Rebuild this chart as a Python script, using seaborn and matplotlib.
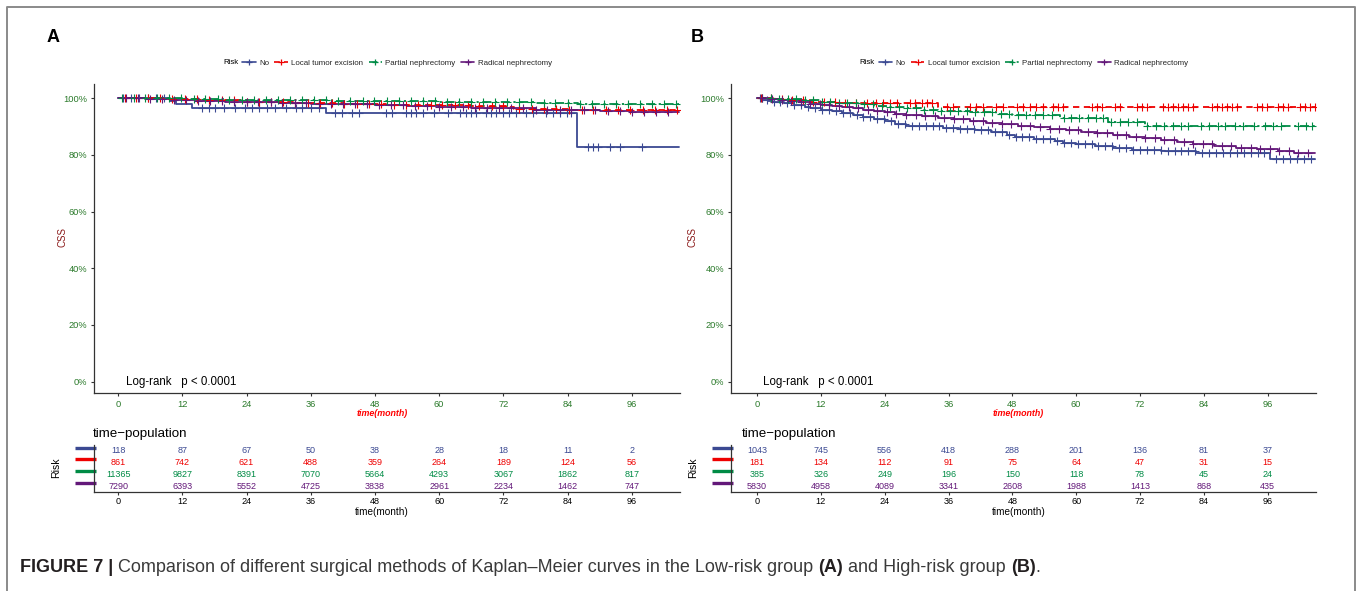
import numpy as np
import matplotlib
matplotlib.use("Agg")
import matplotlib.pyplot as plt
import matplotlib.transforms as mtransforms
from matplotlib.lines import Line2D
import seaborn as sns

# ---------------- data ----------------
groups = ["No", "Local tumor excision", "Partial nephrectomy", "Radical nephrectomy"]
tick_months = [0, 12, 24, 36, 48, 60, 72, 84, 96]
y_ticks = [0, 20, 40, 60, 80, 100]

# Panel A (Low-risk) step curves: time (months) / CSS (%)
a_no_t = [0, 9.7, 10.9, 13.9, 38.9, 85.8, 104.8]
a_no_s = [100, 99.1, 98.1, 96.6, 94.6, 82.9, 82.9]
a_lte_t = [0, 8, 15, 24, 33, 42, 50, 58, 66, 72.5, 74, 84, 95, 104.8]
a_lte_s = [100, 99.6, 99.2, 98.8, 98.4, 98.0, 97.7, 97.5, 97.2, 96.9, 96.2, 96.0, 95.8, 95.8]
a_pn_t = [0, 6, 12, 20, 30, 40, 50, 60, 70, 78, 86, 95, 104.8]
a_pn_s = [100, 99.9, 99.7, 99.5, 99.3, 99.1, 98.9, 98.7, 98.5, 98.3, 98.1, 98.0, 98.0]
a_rn_t = [0, 5, 10, 15, 20, 25, 30, 36, 42, 48, 54, 60, 66, 72, 78, 84, 90, 96, 100, 104.8]
a_rn_s = [100, 99.7, 99.4, 99.1, 98.8, 98.6, 98.3, 98.0, 97.8, 97.5, 97.3, 97.0, 96.7, 96.4, 96.0, 95.7, 95.5, 95.2, 95.0, 95.0]

# Panel A censoring times
a_no_c = [1.0, 2.5, 4.0, 5.5, 7.0, 8.5, 15.6, 16.9, 18.2, 19.7, 21.9, 23.8, 25.0, 26.3, 27.8, 29.4, 31.3, 33.2,
          34.3, 36.0, 37.5, 40.6, 41.8, 43.7, 45.0, 50.0, 51.2, 53.8, 54.7, 55.7, 56.9, 59.1, 61.6, 63.8, 65.1,
          66.0, 66.9, 68.8, 69.7, 70.7, 71.9, 73.1, 74.4, 76.3, 77.5, 80.0, 81.3, 82.5, 83.8, 84.7, 87.8, 88.7,
          89.7, 91.9, 93.8, 97.9]
a_lte_c = [1.2, 3.4, 5.6, 7.8, 10.1, 12.5, 14.7, 17.0, 19.4, 21.6, 24.0, 26.3, 28.5, 30.8, 33.1, 35.4, 37.7, 40.0,
           42.2, 44.6, 46.9, 49.1, 51.5, 53.8, 56.0, 58.4, 60.6, 63.0, 65.3, 67.5, 69.9, 72.0, 75.0, 77.3, 79.6,
           81.9, 84.2, 86.6, 88.8, 91.2, 93.4, 95.7, 98.0, 100.3, 102.6, 104.4]
a_pn_c = [0.8, 2.9, 5.1, 7.3, 9.6, 11.8, 14.1, 16.3, 18.6, 20.8, 23.1, 25.4, 27.6, 29.9, 32.1, 34.4, 36.6, 38.9,
          41.1, 43.4, 45.7, 47.9, 50.2, 52.4, 54.7, 56.9, 59.2, 61.4, 63.7, 66.0, 68.2, 70.5, 72.7, 75.0, 77.2,
          79.5, 81.7, 84.0, 86.3, 88.5, 90.8, 93.0, 95.3, 97.5, 99.8, 102.0, 104.3]
a_rn_c = [1.5, 3.7, 6.0, 8.2, 10.5, 12.7, 15.0, 17.2, 19.5, 21.7, 24.0, 26.2, 28.5, 30.7, 33.0, 35.2, 37.5, 39.7,
          42.0, 44.2, 46.5, 48.7, 51.0, 53.2, 55.5, 57.7, 60.0, 62.2, 64.5, 66.7, 69.0, 71.2, 73.5, 75.7, 78.0,
          80.2, 82.5, 84.7, 87.0, 89.2, 91.5, 93.7, 96.0, 98.2, 100.5, 102.7]

# Panel B (High-risk) step curves
b_no_t = [0, 1, 2, 3, 5, 7, 9, 10, 12, 14, 16, 18, 20, 22, 24, 26, 28, 35, 38, 41, 44, 47, 48.5, 52, 56, 57.5,
          60, 63.5, 67, 70.5, 76, 82.5, 96.5, 105]
b_no_s = [100, 99.5, 99.0, 98.6, 98.2, 97.6, 97.0, 96.5, 96.0, 95.4, 94.8, 94.2, 93.5, 92.8, 92.0, 91.0, 90.2,
          89.6, 89.2, 88.6, 87.9, 87.0, 86.2, 85.6, 85.0, 84.2, 83.8, 83.0, 82.4, 81.8, 81.4, 80.6, 78.4, 78.4]
b_lte_t = [0, 3, 6, 10, 15, 20, 34, 105]
b_lte_s = [100, 99.6, 99.2, 98.8, 98.4, 98.2, 96.8, 96.8]
b_pn_t = [0, 3, 6, 9, 12, 15, 19, 22, 25, 28, 31, 34, 40, 45, 48, 52, 57, 66, 73, 105]
b_pn_s = [100, 99.8, 99.6, 99.4, 98.8, 98.2, 97.8, 97.4, 97.0, 96.5, 96.0, 95.5, 95.0, 94.5, 94.1, 93.9, 92.9,
          91.7, 90.3, 90.3]
b_rn_t = [0, 2, 4, 6, 8, 10, 12, 14, 16, 18, 20, 22, 24, 26, 28, 31, 34, 37, 40, 43, 46, 49, 52, 55, 58, 61,
          64, 67, 70, 73, 76, 79, 82, 86, 90, 94, 98, 101, 105]
b_rn_s = [100, 99.6, 99.2, 98.9, 98.5, 98.1, 97.7, 97.2, 96.8, 96.4, 96.0, 95.5, 95.0, 94.5, 94.1, 93.6, 93.1,
          92.6, 92.0, 91.4, 90.8, 90.2, 89.8, 89.2, 88.6, 88.1, 87.6, 87.0, 86.4, 85.9, 85.3, 84.5, 83.7, 83.1,
          82.6, 81.9, 81.3, 80.6, 80.6]

# Panel B censoring times
b_no_c = [0.6, 1.8, 3.1, 4.4, 5.7, 7.0, 8.3, 9.6, 10.9, 12.2, 13.5, 14.8, 16.1, 17.4, 18.7, 20.0, 21.3, 22.6,
          23.9, 25.2, 26.5, 27.8, 29.1, 30.4, 31.7, 33.0, 34.3, 35.6, 36.9, 38.2, 39.5, 40.8, 42.1, 43.4, 44.7,
          46.0, 47.3, 48.6, 49.9, 51.2, 52.5, 53.8, 55.1, 56.4, 57.7, 59.0, 60.3, 61.6, 62.9, 64.2, 65.5, 66.8,
          68.1, 69.4, 70.7, 72.0, 73.3, 74.6, 75.9, 77.2, 78.5, 79.8, 81.1, 82.4, 83.7, 85.0, 86.3, 87.6, 88.9,
          90.2, 91.5, 92.8, 94.1, 95.4, 97.6, 98.9, 100.2, 101.5, 102.8, 104.1]
b_lte_c = [0.8, 2.6, 4.6, 6.6, 8.6, 10.6, 12.6, 14.6, 16.6, 18.6, 20.6, 22.4, 23.7, 25.0, 26.3, 28.8, 29.7, 31.0,
           32.0, 32.9, 35.7, 36.8, 40.0, 41.2, 42.5, 45.0, 46.3, 48.8, 50.0, 51.3, 52.4, 53.8, 55.7, 56.6, 57.5,
           63.0, 64.0, 64.9, 67.3, 68.2, 71.4, 72.4, 73.3, 76.3, 77.2, 78.2, 79.1, 80.0, 81.0, 82.0, 85.5, 86.4,
           87.4, 88.3, 89.3, 90.2, 94.0, 95.0, 95.9, 98.0, 98.9, 99.8, 102.0, 103.0, 103.9, 104.9]
b_pn_c = [1.0, 2.6, 4.2, 5.8, 7.4, 9.0, 10.6, 12.2, 13.8, 15.4, 17.0, 18.6, 20.2, 21.8, 23.4, 25.0, 26.6, 28.2,
          29.8, 31.4, 33.0, 34.6, 36.2, 37.8, 39.4, 41.0, 42.6, 44.2, 45.8, 47.4, 49.0, 50.6, 52.2, 53.8, 55.4,
          57.8, 59.0, 60.6, 62.2, 63.8, 65.0, 66.6, 68.2, 69.8, 71.4, 73.4, 75.0, 76.6, 78.2, 79.8, 81.0, 83.4,
          85.0, 86.6, 88.0, 89.8, 91.4, 93.4, 95.6, 97.0, 98.6, 101.8, 103.2, 104.4]
b_rn_c = [1.0, 2.8, 4.6, 6.4, 8.2, 10.0, 11.8, 13.6, 15.4, 17.2, 19.0, 20.8, 22.6, 24.4, 26.2, 28.0, 29.8, 31.6,
          33.4, 35.2, 37.0, 38.8, 40.6, 42.4, 44.2, 46.0, 47.8, 49.6, 51.4, 53.2, 55.0, 56.8, 58.6, 60.4, 62.2,
          64.0, 65.8, 67.6, 69.4, 71.2, 73.0, 74.8, 76.6, 78.4, 80.2, 82.0, 83.8, 85.6, 87.4, 89.2, 91.0, 92.8,
          94.6, 96.4, 98.2, 100.0, 101.8, 103.6]

# Numbers at risk
a_risk_no = [118, 87, 67, 50, 38, 28, 18, 11, 2]
a_risk_lte = [861, 742, 621, 488, 359, 264, 189, 124, 56]
a_risk_pn = [11365, 9827, 8391, 7070, 5664, 4293, 3067, 1862, 817]
a_risk_rn = [7290, 6393, 5552, 4725, 3838, 2961, 2234, 1462, 747]
b_risk_no = [1043, 745, 556, 418, 288, 201, 136, 81, 37]
b_risk_lte = [181, 134, 112, 91, 75, 64, 47, 31, 15]
b_risk_pn = [385, 326, 249, 196, 150, 118, 78, 45, 24]
b_risk_rn = [5830, 4958, 4089, 3341, 2608, 1988, 1413, 868, 435]

# ---------------- style ----------------
colors = ["#3B4992", "#EE0000", "#008B45", "#631879"]
line_styles = ["solid", (0, (3.5, 2.5)), (0, (5, 2, 1.2, 2)), "solid"]
tick_green = "#2B7A2B"
axis_col = "#333333"

sns.set_style("white")
plt.rcParams["font.family"] = ["Liberation Sans", "DejaVu Sans"]

W, H = 1357, 591
fig = plt.figure(figsize=(W / 100, H / 100), dpi=100)


def rect(l, t, r, b):
    return [l / W, 1 - b / H, (r - l) / W, (b - t) / H]


def ptext(x, y, s, **kw):
    kw.setdefault("ha", "center")
    kw.setdefault("va", "center")
    return fig.text(x / W, 1 - y / H, s, **kw)


def step_lookup(t, s, c):
    t = np.asarray(t)
    s = np.asarray(s)
    idx = np.searchsorted(t, np.asarray(c), side="right") - 1
    return s[idx]


def style_axes(ax, labelcolor, labelsize, pad):
    for sp in ["top", "right"]:
        ax.spines[sp].set_visible(False)
    for sp in ["left", "bottom"]:
        ax.spines[sp].set_color(axis_col)
        ax.spines[sp].set_linewidth(0.9)
    ax.tick_params(axis="both", length=2.3, width=0.8, color=axis_col, labelsize=labelsize,
                   labelcolor=labelcolor, pad=pad, bottom=True, left=True)


def panel(letter, L, R, xlim, curves, censors, risks, lx):
    ptext(lx["letter"], 37, letter, fontsize=13, fontweight="bold", color="black")

    ax = fig.add_axes(rect(L, 84, R, 393))
    for (t, s), c, col, ls in zip(curves, censors, colors, line_styles):
        sns.lineplot(x=t, y=s, ax=ax, color=col, drawstyle="steps-post", linestyle=ls,
                     linewidth=1.3, estimator=None, sort=False, legend=False)
        sns.scatterplot(x=c, y=step_lookup(t, s, c), ax=ax, marker="+", s=26, color=col,
                        linewidth=0.8, legend=False, zorder=3)
    ax.set_xlim(*xlim)
    ax.set_ylim(-4, 105)
    ax.set_xticks(tick_months)
    ax.set_yticks(y_ticks)
    ax.set_yticklabels([f"{v}%" for v in y_ticks])
    ax.set_xlabel("")
    ax.set_ylabel("")
    style_axes(ax, tick_green, 6.7, 2.6)

    mid = (L + R) / 2
    ptext(mid - 5, 414, "time(month)", fontsize=6.4, fontweight="bold", fontstyle="italic", color="#FF0000")
    ptext(lx["css"], 237, "CSS", fontsize=7.0, rotation=90, color="#8B1A1A")
    ptext(lx["logrank"], 381.5, "Log-rank   p < 0.0001", fontsize=8.3, ha="left", color="black")

    # legend
    handles = [Line2D([0], [0], color=col, linestyle=ls, lw=1.2, marker="+", markersize=5, mew=0.9)
               for col, ls in zip(colors, line_styles)]
    leg = ax.legend(handles, groups, loc="center", bbox_to_anchor=((mid + 10) / W, 1 - 63 / H),
                    bbox_transform=fig.transFigure, ncol=4, frameon=False, fontsize=5.7,
                    handlelength=1.7, handletextpad=0.4, columnspacing=0.7, borderaxespad=0, borderpad=0)
    fig.canvas.draw()
    bb = leg.get_window_extent(fig.canvas.get_renderer())
    fig.text((bb.x0 - 4) / W, 1 - 63 / H, "Risk", fontsize=5.7, ha="right", va="center", color="black")

    # risk table
    tx = fig.add_axes(rect(L, 445, R, 492))
    tx.set_xlim(*xlim)
    tx.set_ylim(0.5, 4.5)
    tx.set_yticks([])
    tx.set_xticks(tick_months)
    style_axes(tx, "black", 6.6, 1.0)
    blend = mtransforms.blended_transform_factory(tx.transAxes, tx.transData)
    for i, (vals, col) in enumerate(zip(risks, colors)):
        row = 4 - i
        for m, v in zip(tick_months, vals):
            tx.text(m, row, str(v), ha="center", va="center", fontsize=6.5, color=col)
        tx.plot([-0.033, 0.004], [row + 0.27, row + 0.27], transform=blend, color=col, lw=2.4,
                solid_capstyle="butt", clip_on=False)
    ptext(lx["title"], 434, "time\u2212population", fontsize=9.6, ha="left", color="black")
    ptext(lx["risk"], 468, "Risk", fontsize=7.6, rotation=90, color="black")
    ptext(mid - 5, 512, "time(month)", fontsize=7.2, color="black")


panel("A", 94, 680, (-4.5, 105),
      [(a_no_t, a_no_s), (a_lte_t, a_lte_s), (a_pn_t, a_pn_s), (a_rn_t, a_rn_s)],
      [a_no_c, a_lte_c, a_pn_c, a_rn_c],
      [a_risk_no, a_risk_lte, a_risk_pn, a_risk_rn],
      {"letter": 53, "css": 63, "logrank": 126, "title": 93, "risk": 56})
panel("B", 731, 1316, (-4.9, 105.1),
      [(b_no_t, b_no_s), (b_lte_t, b_lte_s), (b_pn_t, b_pn_s), (b_rn_t, b_rn_s)],
      [b_no_c, b_lte_c, b_pn_c, b_rn_c],
      [b_risk_no, b_risk_lte, b_risk_pn, b_risk_rn],
      {"letter": 697, "css": 693, "logrank": 763, "title": 742, "risk": 693})

# frame around the figure
fig.add_artist(Line2D([7 / W, 7 / W, 1355 / W, 1355 / W], [0, 1 - 7 / H, 1 - 7 / H, 0],
                      transform=fig.transFigure, color="#8a8a8a", lw=1.4))

# caption with mixed weights
pieces = [("FIGURE 7 |", "bold", True),
          ("Comparison of different surgical methods of Kaplan\u2013Meier curves in the Low-risk group", "normal", True),
          ("(A)", "bold", True), ("and High-risk group", "normal", True), ("(B)", "bold", False), (".", "normal", False)]


def draw_caption(size):
    renderer = fig.canvas.get_renderer()
    x = 20.0
    made = []
    for s, w, sp in pieces:
        t = fig.text(x / W, 1 - 567 / H, s, fontsize=size, fontweight=w, ha="left", va="center",
                     color="#231F20" if w == "bold" else "#3a3a3a")
        made.append(t)
        bb = t.get_window_extent(renderer)
        x = bb.x1 + (0.28 * size * 100 / 72 if sp else 0.0)
    return made, x


made, xend = draw_caption(12)
width = xend - 20
for t in made:
    t.remove()
draw_caption(12 * 1023 / width)

fig.savefig("out.png", dpi=100)
